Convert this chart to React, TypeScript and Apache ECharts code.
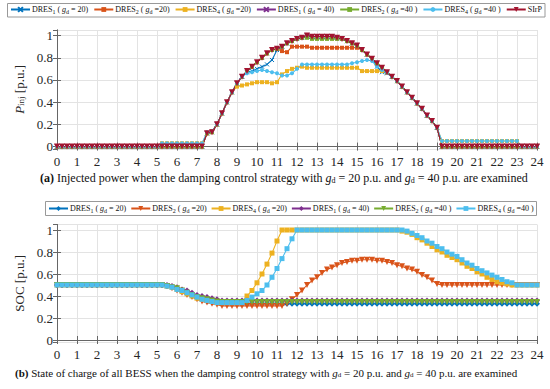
import React, { useEffect, useRef } from 'react';
import * as echarts from 'echarts';

// time axis, hours (15-minute samples)
const TIME = [0,0.25,0.5,0.75,1,1.25,1.5,1.75,2,2.25,2.5,2.75,3,3.25,3.5,3.75,4,4.25,4.5,4.75,5,5.25,5.5,5.75,6,6.25,6.5,6.75,7,7.25,7.5,7.75,8,8.25,8.5,8.75,9,9.25,9.5,9.75,10,10.25,10.5,10.75,11,11.25,11.5,11.75,12,12.25,12.5,12.75,13,13.25,13.5,13.75,14,14.25,14.5,14.75,15,15.25,15.5,15.75,16,16.25,16.5,16.75,17,17.25,17.5,17.75,18,18.25,18.5,18.75,19,19.25,19.5,19.75,20,20.25,20.5,20.75,21,21.25,21.5,21.75,22,22.25,22.5,22.75,23,23.25,23.5,23.75,24];

// (a) injected power [p.u.]
const P_SIRP = [0,0,0,0,0,0,0,0,0,0, 0,0,0,0,0,0,0,0,0,0, 0,0,0,0,0,0,0,0,0,0,
  0.12,0.13,0.20,0.30,0.40,0.49,0.57,0.63,0.68,0.72,0.76,0.80,0.84,0.87,0.88,0.90,0.93,0.95,0.97,0.98,1.00,0.99,0.99,0.99,0.99,0.99,0.98,0.97,0.95,0.93,0.91,0.87,0.83,0.79,0.75,0.71,0.67,0.63,0.59,0.54,0.49,0.44,0.39,0.34,0.28,0.23,0.17,
  0,0,0,0,0,0,0,0,0,0, 0,0,0,0,0,0,0,0,0,0];
const P_D1_20 = [0,0,0,0,0,0,0,0,0,0, 0,0,0,0,0,0,0,0,0,0, 0,0,0,0,0,0,0,0,0,0,
  0.12,0.13,0.20,0.30,0.40,0.49,0.57,0.63,0.67,0.68,0.70,0.72,0.74,0.78,0.87,0.90,0.93,0.95,0.97,0.98,1.00,0.99,0.99,0.99,0.99,0.99,0.98,0.97,0.95,0.93,0.91,0.87,0.83,0.79,0.72,0.67,0.66,0.63,0.59,0.54,0.49,0.44,0.39,0.34,0.28,0.23,0.17,
  0,0,0,0,0,0,0,0,0,0, 0,0,0,0,0,0,0,0,0,0];
const P_D2_20 = [0,0,0,0,0,0,0,0,0,0, 0,0,0,0,0,0,0,0,0,0, 0,0,0,0,0,0,0,0,0,0,
  0.12,0.13,0.20,0.30,0.40,0.49,0.57,0.63,0.68,0.72,0.76,0.80,0.84,0.87,0.88,0.86,0.85,0.90,0.90,0.90,0.90,0.89,0.89,0.89,0.89,0.89,0.89,0.89,0.89,0.89,0.89,0.87,0.83,0.79,0.75,0.71,0.67,0.63,0.59,0.54,0.49,0.44,0.39,0.34,0.28,0.23,0.17,
  0,0,0,0,0,0,0,0,0,0, 0,0,0,0,0,0,0,0,0,0];
const P_D4_20 = [0,0,0,0,0,0,0,0,0,0, 0,0,0,0,0,0,0,0,0,0, 0,
  0.03,0.03,0.03,0.03,0.03,0.03,0.03,0.03,0.03,
  0.12,0.14,0.20,0.30,0.40,0.49,0.54,0.55,0.56,0.57,0.58,0.58,0.58,0.57,0.58,0.65,0.68,0.70,0.71,0.72,0.71,0.71,0.71,0.71,0.71,0.71,0.71,0.71,0.71,0.71,0.71,0.68,0.68,0.68,0.68,0.68,0.67,0.63,0.59,0.54,0.49,0.44,0.39,0.34,0.28,0.23,0.17,
  0.05,0.05,0.05,0.05,0.05,0.05,0.05,0.05,0.05,0.05,0.05,0.05,0.05,0.05,0.05,0.05,
  0,0,0,0];
const P_D1_40 = [0,0,0,0,0,0,0,0,0,0, 0,0,0,0,0,0,0,0,0,0, 0,0,0,0,0,0,0,0,0,0,
  0.12,0.13,0.20,0.30,0.40,0.49,0.57,0.63,0.68,0.72,0.76,0.80,0.84,0.87,0.88,0.90,0.93,0.95,0.97,0.98,1.00,0.99,0.99,0.99,0.99,0.99,0.98,0.97,0.95,0.93,0.91,0.87,0.83,0.79,0.75,0.71,0.67,0.63,0.59,0.54,0.49,0.44,0.39,0.34,0.28,0.23,0.17,
  0,0,0,0,0,0,0,0,0,0, 0,0,0,0,0,0,0,0,0,0];
const P_D2_40 = [0,0,0,0,0,0,0,0,0,0, 0,0,0,0,0,0,0,0,0,0, 0,0,0,0,0,0,0,0,0,0,
  0.12,0.13,0.20,0.30,0.40,0.49,0.57,0.63,0.68,0.72,0.76,0.80,0.84,0.87,0.88,0.90,0.93,0.95,0.97,0.98,0.98,0.97,0.97,0.97,0.97,0.97,0.97,0.97,0.95,0.93,0.91,0.87,0.83,0.79,0.75,0.71,0.67,0.63,0.59,0.54,0.49,0.44,0.39,0.34,0.28,0.23,0.17,
  0,0,0,0,0,0,0,0,0,0, 0,0,0,0,0,0,0,0,0,0];
const P_D4_40 = [0,0,0,0,0,0,0,0,0,0, 0,0,0,0,0,0,0,0,0,0, 0,
  0.03,0.03,0.03,0.03,0.03,0.03,0.03,0.03,0.03,
  0.13,0.14,0.20,0.30,0.40,0.49,0.57,0.63,0.66,0.67,0.68,0.69,0.68,0.67,0.66,0.64,0.64,0.66,0.70,0.74,0.74,0.74,0.74,0.74,0.74,0.74,0.74,0.74,0.74,0.75,0.76,0.77,0.78,0.77,0.72,0.69,0.67,0.63,0.59,0.54,0.49,0.44,0.39,0.34,0.28,0.23,0.17,
  0.05,0.05,0.05,0.05,0.05,0.05,0.05,0.05,0.05,0.05,0.05,0.05,0.05,0.05,0.05,0.05,
  0,0,0,0];

// (b) state of charge [p.u.]
const S_D1_20 = [0.5,0.5,0.5,0.5,0.5,0.5,0.5,0.5,0.5,0.5, 0.5,0.5,0.5,0.5,0.5,0.5,0.5,0.5,0.5,0.5, 0.5,
  0.50,0.49,0.48,0.46,0.44,0.42,0.40,0.38,0.37,0.35,0.34,0.34,
  0.33,0.33,0.33,0.33,0.33,0.33,0.33,0.33,0.33,0.33,0.33,0.33,0.33,0.33,0.33,0.33,
  0.33,0.33,0.33,0.33,0.33,0.33,0.33,0.33,0.33,0.33,0.33,0.33,0.33,0.33,0.33,0.33,
  0.33,0.33,0.33,0.33,0.33,0.33,0.33,0.33,0.33,0.33,0.33,0.33,0.33,0.33,0.33,0.33,
  0.33,0.33,0.33,0.33,0.33,0.33,0.33,0.33,0.33,0.33,0.33,0.33,0.33,0.33,0.33,0.33];
const S_D2_20 = [0.5,0.5,0.5,0.5,0.5,0.5,0.5,0.5,0.5,0.5, 0.5,0.5,0.5,0.5,0.5,0.5,0.5,0.5,0.5,0.5, 0.5,
  0.50,0.49,0.47,0.45,0.43,0.41,0.39,0.37,0.35,0.34,0.33,0.32,
  0.31,0.31,0.31,0.31,0.31,0.31,0.31,0.31,0.31,0.31,0.31,0.31,0.31,
  0.33,0.37,0.41,0.45,0.50,0.54,0.57,0.61,0.64,0.66,0.68,0.70,0.71,0.72,0.72,0.73,0.73,0.73,0.72,0.72,0.71,0.70,0.68,0.67,0.65,0.64,0.62,0.59,0.57,0.54,0.51,
  0.50,0.50,0.50,0.50,0.50,0.50,0.50,0.50,0.50,0.50,0.50,0.50,0.50,0.50,0.50,0.50,0.50,0.50,0.50,0.50];
const S_D4_20 = [0.5,0.5,0.5,0.5,0.5,0.5,0.5,0.5,0.5,0.5, 0.5,0.5,0.5,0.5,0.5,0.5,0.5,0.5,0.5,0.5, 0.5,
  0.50,0.49,0.48,0.46,0.44,0.42,0.40,0.38,0.37,0.36,0.35,0.34,
  0.34,0.34,0.34,0.34,
  0.35,0.40,0.45,0.52,0.60,0.69,0.79,0.90,
  1,1,1,1,1,1,1,1,1,1,1,1,1,1,1,1,1,1,1,1,1,1,1,1,
  0.99,0.98,0.96,0.93,0.91,0.88,0.85,0.82,0.80,0.77,0.75,0.73,0.70,0.67,0.65,0.62,0.60,0.57,0.55,0.53,0.52,0.51,
  0.50,0.50,0.50,0.50,0.50,0.50];
const S_D1_40 = [0.5,0.5,0.5,0.5,0.5,0.5,0.5,0.5,0.5,0.5, 0.5,0.5,0.5,0.5,0.5,0.5,0.5,0.5,0.5,0.5, 0.5,
  0.50,0.50,0.49,0.48,0.46,0.45,0.43,0.41,0.40,0.39,0.38,0.37,
  0.36,0.36,0.36,0.36,0.36,0.36,0.36,0.36,0.36,0.36,0.36,0.36,0.36,0.36,0.36,0.36,
  0.36,0.36,0.36,0.36,0.36,0.36,0.36,0.36,0.36,0.36,0.36,0.36,0.36,0.36,0.36,0.36,
  0.36,0.36,0.36,0.36,0.36,0.36,0.36,0.36,0.36,0.36,0.36,0.36,0.36,0.36,0.36,0.36,
  0.36,0.36,0.36,0.36,0.36,0.36,0.36,0.36,0.36,0.36,0.36,0.36,0.36,0.36,0.36,0.36];
const S_D2_40 = [0.5,0.5,0.5,0.5,0.5,0.5,0.5,0.5,0.5,0.5, 0.5,0.5,0.5,0.5,0.5,0.5,0.5,0.5,0.5,0.5, 0.5,
  0.50,0.49,0.48,0.47,0.45,0.43,0.41,0.39,0.38,0.37,0.36,0.35,
  0.345,0.345,0.345,0.345,0.345,0.345,0.345,0.345,0.345,0.345,0.345,0.345,0.345,0.345,0.345,0.345,
  0.345,0.345,0.345,0.345,0.345,0.345,0.345,0.345,0.345,0.345,0.345,0.345,0.345,0.345,0.345,0.345,
  0.345,0.345,0.345,0.345,0.345,0.345,0.345,0.345,0.345,0.345,0.345,0.345,0.345,0.345,0.345,0.345,
  0.345,0.345,0.345,0.345,0.345,0.345,0.345,0.345,0.345,0.345,0.345,0.345,0.345,0.345,0.345,0.345];
const S_D4_40 = [0.5,0.5,0.5,0.5,0.5,0.5,0.5,0.5,0.5,0.5, 0.5,0.5,0.5,0.5,0.5,0.5,0.5,0.5,0.5,0.5, 0.5,
  0.50,0.49,0.48,0.46,0.45,0.43,0.41,0.39,0.37,0.36,0.35,0.34,
  0.34,0.34,0.34,0.34,0.34,
  0.36,0.39,0.42,0.45,0.50,0.57,0.65,0.74,0.83,0.92,
  1,1,1,1,1,1,1,1,1,1,1,1,1,1,1,1,1,1,1,1,1,
  1,0.99,0.97,0.95,0.93,0.90,0.88,0.85,0.83,0.80,0.78,0.76,0.73,0.70,0.68,0.65,0.63,0.61,0.59,0.57,0.55,0.53,0.52,0.50,
  0.50,0.50,0.50,0.50];

const TOP_LABELS = [
  'DRES{s|1} ( {i|g}{s|d} = 20)', 'DRES{s|2} ( {i|g}{s|d} =20)', 'DRES{s|4} ( {i|g}{s|d} =20)',
  'DRES{s|1} ( {i|g}{s|d} = 40)', 'DRES{s|2} ( {i|g}{s|d} =40 )', 'DRES{s|4} ( {i|g}{s|d} =40 )', 'SIrP',
];
const BOT_LABELS = [
  'DRES{s|1} ( {i|g}{s|d} = 20)', 'DRES{s|2} ( {i|g}{s|d} =20)', 'DRES{s|4} ( {i|g}{s|d} =20)',
  'DRES{s|1} ( {i|g}{s|d} = 40)', 'DRES{s|2} ( {i|g}{s|d} =40 )', 'DRES{s|4} ( {i|g}{s|d} =40 )',
];
const CAPTION_A = '{b|(a)} Injected power when the damping control strategy with {i|g}{s|d} = 20 p.u. and {i|g}{s|d} = 40 p.u. are examined';
const CAPTION_B = '{b|(b)} State of charge of all BESS when the damping control strategy with {i|g}{s|d} = 20 p.u. and {i|g}{s|d} = 40 p.u. are examined';

const C = { blue: '#0072BD', orange: '#D95319', yellow: '#EDB120', purple: '#7E2F8E', green: '#77AC30', cyan: '#4DBEEE', red: '#A2142F' };
const FONT = '"Liberation Serif", "Times New Roman", serif';
const XMARK = 'path://M0,0L10,10M10,0L0,10';

export default function App() {
  const ref = useRef<HTMLDivElement>(null);
  useEffect(() => {
    document.body.style.margin = '0';
    const chart = echarts.init(ref.current!, null, { renderer: 'svg' });

    const legRich = {
      s: { fontFamily: FONT, fontSize: 6, verticalAlign: 'bottom', lineHeight: 6, color: '#111' },
      i: { fontFamily: FONT, fontSize: 8, fontStyle: 'italic', color: '#111' },
    };

    const line = (id: string, vals: number[], color: string, symbol: string, size: number, g: number, extra: any = {}) => ({
      type: 'line', name: id, xAxisIndex: g * 2, yAxisIndex: g * 2,
      data: TIME.map((t, i) => [t, vals[i]]),
      symbol, symbolSize: size,
      lineStyle: { color, width: 1.1 },
      itemStyle: { color, ...(symbol === XMARK ? { borderColor: color, borderWidth: 1 } : {}) },
      ...extra,
    });

    const series = [
      line('a1', P_D1_20, C.blue, XMARK, 4, 0),
      line('a2', P_D2_20, C.orange, 'rect', 4, 0),
      line('a3', P_D4_20, C.yellow, 'rect', 4, 0),
      line('a4', P_D1_40, C.purple, XMARK, 4, 0),
      line('a5', P_D2_40, C.green, 'rect', 4, 0),
      line('a6', P_D4_40, C.cyan, 'circle', 4, 0),
      line('a7', P_SIRP, C.red, 'triangle', 6, 0, { symbolRotate: 180 }),
      line('b1', S_D1_20, C.blue, 'diamond', 6, 1),
      line('b2', S_D2_20, C.orange, 'triangle', 6, 1, { symbolRotate: 180 }),
      line('b3', S_D4_20, C.yellow, 'rect', 5, 1),
      line('b4', S_D1_40, C.purple, 'diamond', 6, 1),
      line('b5', S_D2_40, C.green, 'triangle', 6, 1, { symbolRotate: 180 }),
      line('b6', S_D4_40, C.cyan, 'rect', 5, 1),
    ];

    const axisLine = { show: true, lineStyle: { color: '#666', width: 1 } };
    const tick = { show: true, inside: true, length: 4, lineStyle: { color: '#666' } };
    const labelStyle = { fontFamily: FONT, fontSize: 13, color: '#262626' };
    const split = { show: true, lineStyle: { color: '#e3e3e3', width: 1 } };

    const xAxes: any[] = [];
    const yAxes: any[] = [];
    [0, 1].forEach((g) => {
      xAxes.push({ type: 'value', gridIndex: g, min: 0, max: 24, interval: 1, position: 'bottom',
        axisLine, axisTick: tick, splitLine: split, axisLabel: { ...labelStyle, margin: 6 } });
      xAxes.push({ type: 'value', gridIndex: g, min: 0, max: 24, interval: 1, position: 'top',
        axisLine, axisTick: tick, splitLine: { show: false }, axisLabel: { show: false } });
      yAxes.push({ type: 'value', gridIndex: g, min: -0.02, max: 1.05, splitNumber: 5, position: 'left',
        axisLine, axisTick: tick, splitLine: split,
        axisLabel: { ...labelStyle, margin: 4, showMinLabel: false, showMaxLabel: false,
          formatter: (v: number) => String(Math.round(v * 10) / 10) },
        name: g === 0 ? '{i|P}{s|inj} [p.u.]' : 'SOC [p.u.]', nameLocation: 'middle', nameRotate: 90,
        nameGap: g === 0 ? 24 : 23,
        nameTextStyle: { fontFamily: FONT, fontSize: 13, color: '#262626',
          rich: { i: { fontFamily: FONT, fontSize: 13, fontStyle: 'italic', color: '#262626' },
                  s: { fontFamily: FONT, fontSize: 9, verticalAlign: 'bottom', lineHeight: 8, color: '#262626' } } } });
      yAxes.push({ type: 'value', gridIndex: g, min: -0.02, max: 1.05, splitNumber: 5, position: 'right',
        axisLine, axisTick: tick, splitLine: { show: false }, axisLabel: { show: false } });
    });

    const capRich = (fs: number) => ({
      b: { fontFamily: FONT, fontSize: fs, fontWeight: 'bold', fill: '#111', color: '#111' },
      i: { fontFamily: FONT, fontSize: fs, fontStyle: 'italic', fill: '#111', color: '#111' },
      s: { fontFamily: FONT, fontSize: fs - 4, verticalAlign: 'bottom', lineHeight: 8, fill: '#111', color: '#111' },
    });

    chart.setOption({
      animation: false,
      backgroundColor: '#fff',
      grid: [
        { left: 57, width: 480, top: 30, height: 118.8 },
        { left: 57, width: 480, top: 224.5, height: 117.7 },
      ],
      xAxis: xAxes,
      yAxis: yAxes,
      legend: [
        { data: ['a1', 'a2', 'a3', 'a4', 'a5', 'a6', 'a7'], left: 10, top: 4.5, padding: 0, itemGap: 5,
          itemWidth: 19, itemHeight: 6, selectedMode: false,
          formatter: (n: string) => TOP_LABELS[Number(n.slice(1)) - 1],
          textStyle: { fontFamily: FONT, fontSize: 8, color: '#111', lineHeight: 10, padding: [0, 0, 0, -3], rich: legRich } },
        { data: ['b1', 'b2', 'b3', 'b4', 'b5', 'b6'], left: 48, top: 203.5, padding: 0, itemGap: 4,
          itemWidth: 19, itemHeight: 6, selectedMode: false,
          formatter: (n: string) => BOT_LABELS[Number(n.slice(1)) - 1],
          textStyle: { fontFamily: FONT, fontSize: 8, color: '#111', lineHeight: 10, padding: [0, 0, 0, -3], rich: legRich } },
      ],
      graphic: [
        { type: 'rect', z: 0, shape: { x: 7.5, y: 3.5, width: 537.5, height: 13.5 }, style: { fill: '#fff', stroke: '#999', lineWidth: 1 } },
        { type: 'rect', z: 0, shape: { x: 45.5, y: 201.5, width: 491, height: 14 }, style: { fill: '#fff', stroke: '#999', lineWidth: 1 } },
        { type: 'text', x: 40, y: 172, style: { text: CAPTION_A, fontFamily: FONT, fontSize: 12, fill: '#111', rich: capRich(12) } },
        { type: 'text', x: 15, y: 367, style: { text: CAPTION_B, fontFamily: FONT, fontSize: 11, fill: '#111', rich: capRich(11) } },
      ],
      series,
    });
    return () => chart.dispose();
  }, []);
  return <div ref={ref} style={{ width: 550, height: 389 }} />;
}
